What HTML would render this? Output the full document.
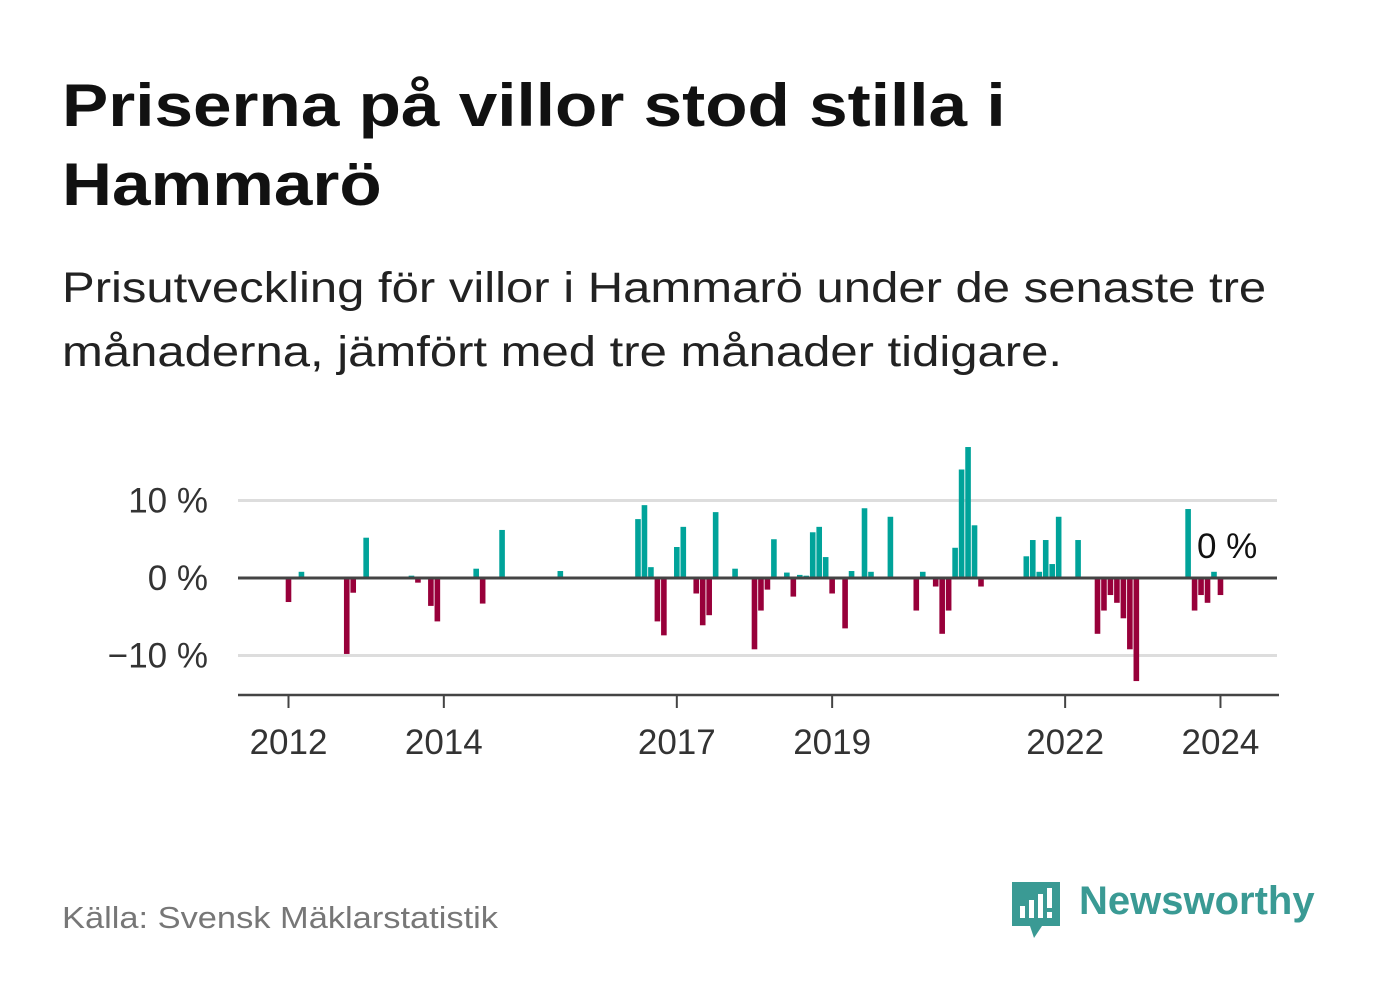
<!DOCTYPE html>
<html><head><meta charset="utf-8"><style>
body{margin:0;background:#fff;font-family:"Liberation Sans",sans-serif;}
#w{position:relative;width:1382px;height:999px;overflow:hidden;background:#fff}
.t{position:absolute;left:62px;color:#111;transform-origin:0 0;white-space:nowrap}
</style></head><body>
<div id="w">
<div class="t" style="top:66px;font-size:60px;font-weight:bold;line-height:79px;transform:scaleX(1.155)">Priserna på villor stod stilla i<br>Hammarö</div>
<div class="t" style="top:256px;font-size:43px;line-height:64px;color:#222;transform:scaleX(1.14)">Prisutveckling för villor i Hammarö under de senaste tre<br>månaderna, jämfört med tre månader tidigare.</div>
<svg id="chart" width="1382" height="999" style="position:absolute;left:0;top:0"></svg>
<div style="position:absolute;left:62px;top:900px;font-size:31px;color:#777;transform-origin:0 0;transform:scaleX(1.11);white-space:nowrap">Källa: Svensk Mäklarstatistik</div>
<svg style="position:absolute;left:1010px;top:880px" width="52" height="60">
<path d="M2 2 H50 V46 H32 L24 58 L20 46 H2 Z" fill="#3a9a94"/>
<rect x="10" y="26" width="5" height="12" fill="#fff"/><rect x="19" y="20" width="5" height="18" fill="#fff"/><rect x="28" y="14" width="5" height="24" fill="#fff"/><rect x="37" y="8" width="5" height="20" fill="#fff"/><rect x="37" y="32" width="5" height="6" fill="#fff"/>
</svg>
<div style="position:absolute;left:1079px;top:879px;font-size:40px;font-weight:bold;color:#3a9a94">Newsworthy</div>
</div>
<script>
const months=[0,2,9,10,12,19,20,22,23,29,30,33,42,54,55,56,57,58,60,61,63,64,65,66,69,72,73,74,75,77,78,79,80,81,82,83,84,86,87,89,90,93,97,98,100,101,102,103,104,105,106,107,114,115,116,117,118,119,122,125,126,127,128,129,130,131,139,140,141,142,143,144,145];
const values=[-3.1,0.8,-9.8,-1.9,5.2,0.3,-0.6,-3.6,-5.6,1.2,-3.3,6.2,0.9,7.6,9.4,1.4,-5.6,-7.4,4.0,6.6,-2.0,-6.1,-4.8,8.5,1.2,-9.2,-4.2,-1.5,5.0,0.7,-2.4,0.4,0.3,5.9,6.6,2.7,-2.0,-6.5,0.9,9.0,0.8,7.9,-4.2,0.8,-1.1,-7.2,-4.2,3.9,14.0,16.9,6.8,-1.1,2.8,4.9,0.8,4.9,1.8,7.9,4.9,-7.2,-4.2,-2.2,-3.2,-5.2,-9.2,-13.3,8.9,-4.2,-2.2,-3.2,0.8,-2.2,0];
const yTicks=[10,0,-10];
const yTickLabels=["10 %","0 %","−10 %"];
const xTickYears=[2012,2014,2017,2019,2022,2024];
const lastLabel="0 %";
const svg=document.getElementById('chart');
const NS='http://www.w3.org/2000/svg';
const x=m=>288.5+m*6.472;
const xYear=yr=>x((yr-2012)*12);
const y=v=>578-v*7.75;
function mk(t,a){const e=document.createElementNS(NS,t);for(const k in a)e.setAttribute(k,a[k]);svg.appendChild(e);return e;}
yTicks.forEach((v,i)=>{
  if(v!==0){const g=mk('line',{x1:238,x2:1277,y1:y(v),y2:y(v),stroke:'#ddd','stroke-width':3});
  
  }
  const t=mk('text',{x:208,y:y(v)+12,'text-anchor':'end','font-size':35,fill:'#333','font-family':'Liberation Sans, sans-serif'});
  t.textContent=yTickLabels[i];
  
  
});
months.forEach((m,i)=>{
  const v=values[i];if(v===0)return;
  const r=mk('rect',{x:x(m)-2.8,width:5.6,y:v>0?y(v):y(0),height:Math.abs(y(v)-y(0)),fill:v>0?'#00a39a':'#98003a'});
  
  
});
const z=mk('line',{x1:238,x2:1277,y1:y(0),y2:y(0),stroke:'#444','stroke-width':3});


const ax=mk('line',{x1:238,x2:1279,y1:695,y2:695,stroke:'#444','stroke-width':2.5});


xTickYears.forEach(yr=>{
  const tk=mk('line',{x1:xYear(yr),x2:xYear(yr),y1:695,y2:708,stroke:'#444','stroke-width':2});
  
  
  const t=mk('text',{x:xYear(yr),y:754,'text-anchor':'middle','font-size':35,fill:'#333','font-family':'Liberation Sans, sans-serif'});
  t.textContent=yr;
  
  
});
const lt=mk('text',{x:x(months[months.length-1])-30,y:558,'font-size':35,fill:'#111','font-family':'Liberation Sans, sans-serif'});
lt.textContent=lastLabel;


</script>
</body></html>
